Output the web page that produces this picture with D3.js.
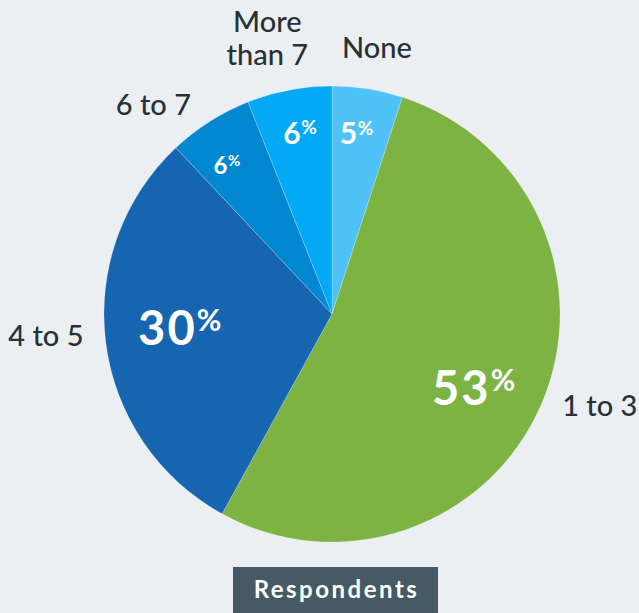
<!DOCTYPE html>
<html>
<head>
<meta charset="utf-8">
<script src="https://cdn.jsdelivr.net/npm/d3@7/dist/d3.min.js"></script>
<style>
  html, body { margin: 0; padding: 0; background: #eceff1; }
  svg { display: block; font-family: Lato, "Noto Sans", sans-serif; }
</style>
</head>
<body>
<svg id="chart" width="639" height="613"></svg>
<script>
// Number of items per respondent, share of respondents (%)
const categories = ["None", "1 to 3", "4 to 5", "6 to 7", "More than 7"];
const shares = [5, 53, 30, 6, 6];
const colors = ["#4fc3f7", "#7cb342", "#1565b0", "#0288d1", "#03a9f4"];
const seriesName = "Respondents";

// Outer category labels: angular nudge (deg) from slice mid-angle and radius
const labelNudge = [0.6, -4.5, 2.8, -8.1, -2.4];
const labelRadius = [270, 283, 287, 275, 283];

// Inner percentage labels: angular nudge (deg), radius, digit size, "%" size
const pctNudge = [-1.25, 4.3, 1.8, -2.9, 0.8];
const pctRadius = [182, 160, 153, 182, 184];
const pctSize = [30, 47, 47, 24, 30];
const pctSignSize = [19, 30, 30, 15, 19];

const W = 639, H = 613;
const cx = 332, cy = 314, R = 228;
const deg = Math.PI / 180;

const svg = d3.select("#chart");
svg.append("rect").attr("width", W).attr("height", H).attr("fill", "#eceff1");

const data = categories.map((c, i) => ({ name: c, value: shares[i], color: colors[i], i }));

const pie = d3.pie().sort(null).value(d => d.value);
const arcs = pie(data);
const arc = d3.arc().innerRadius(0).outerRadius(R);

const g = svg.append("g").attr("transform", `translate(${cx},${cy})`);

g.selectAll("path.slice")
  .data(arcs)
  .enter().append("path")
  .attr("class", "slice")
  .attr("d", arc)
  .attr("fill", d => d.data.color)
  .attr("stroke", "rgba(255,255,255,0.35)")
  .attr("stroke-width", 0.6);

const polar = (a, r) => [r * Math.sin(a), -r * Math.cos(a)];
const mid = d => (d.startAngle + d.endAngle) / 2;

// Percentage labels inside slices
const inner = g.selectAll("text.pct")
  .data(arcs)
  .enter().append("text")
  .attr("class", "pct")
  .attr("fill", "#ffffff")
  .attr("font-weight", 700)
  .attr("text-anchor", "middle")
  .attr("transform", d => {
    const i = d.data.i;
    const p = polar(mid(d) + pctNudge[i] * deg, pctRadius[i]);
    return `translate(${p[0]},${p[1]})`;
  });

inner.append("tspan")
  .attr("dy", "0.36em")
  .attr("font-size", d => pctSize[d.data.i])
  .attr("letter-spacing", d => pctSize[d.data.i] > 40 ? 2 : 0.5)
  .text(d => d.data.value);
inner.append("tspan")
  .attr("font-size", d => pctSignSize[d.data.i])
  .attr("dy", d => {
    const i = d.data.i;
    return -0.717 * pctSize[i] + 0.717 * pctSignSize[i] - 2;
  })
  .text("%");

// Outer category labels
const labelG = g.selectAll("g.lbl")
  .data(arcs)
  .enter().append("g")
  .attr("class", "lbl")
  .attr("transform", d => {
    const i = d.data.i;
    const p = polar(mid(d) + labelNudge[i] * deg, labelRadius[i]);
    return `translate(${p[0]},${p[1]})`;
  });

labelG.each(function (d) {
  const words = d.data.name === "More than 7" ? ["More", "than 7"] : [d.data.name];
  const t = d3.select(this).append("text")
    .attr("text-anchor", "middle")
    .attr("fill", "#263238")
    .attr("font-size", 29)
    .attr("font-weight", 500);
  const lh = 33;
  const start = -(words.length - 1) * lh / 2;
  words.forEach((w, k) => {
    t.append("tspan")
      .attr("x", 0)
      .attr("y", start + k * lh)
      .attr("dy", "0.35em")
      .text(w);
  });
});

// Series badge
const badge = svg.append("g");
badge.append("rect")
  .attr("x", 233).attr("y", 567)
  .attr("width", 205).attr("height", 50)
  .attr("fill", "#455a64");
badge.append("text")
  .attr("x", 336.5).attr("y", 598)
  .attr("text-anchor", "middle")
  .attr("fill", "#ffffff")
  .attr("font-size", 24)
  .attr("font-weight", 700)
  .attr("letter-spacing", 2.5)
  .text(seriesName);
</script>
</body>
</html>
